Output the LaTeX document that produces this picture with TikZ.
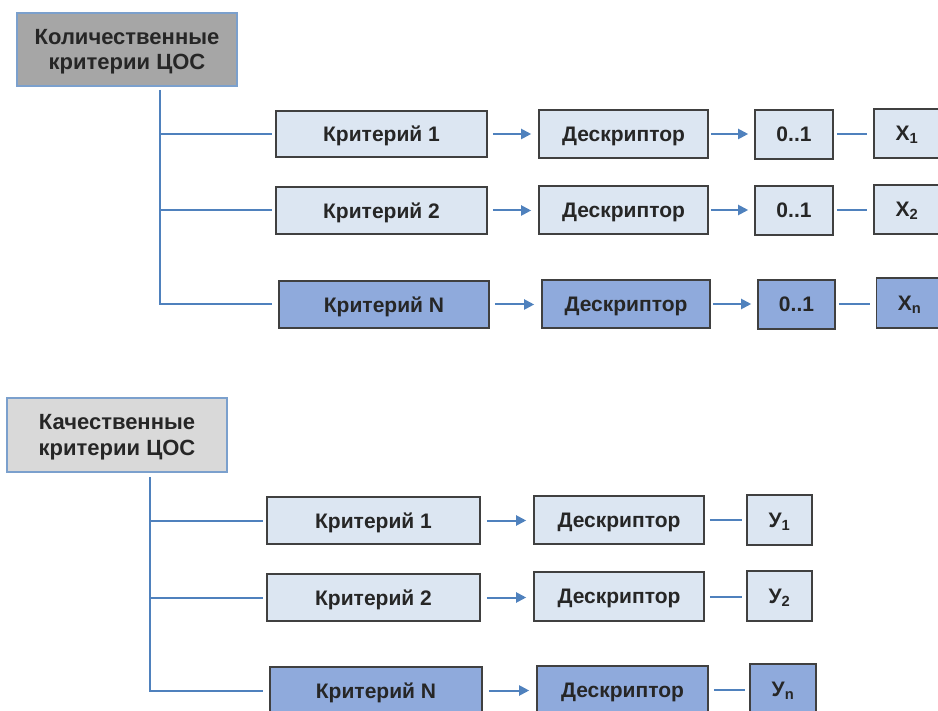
\documentclass[tikz,border=0pt]{standalone}
\usepackage{fontspec}
\setmainfont{Liberation Sans}
\usetikzlibrary{arrows.meta}

\definecolor{boxlight}{HTML}{DCE6F2}
\definecolor{boxdark}{HTML}{8FAADC}
\definecolor{hdrdark}{HTML}{A6A6A6}
\definecolor{hdrlight}{HTML}{D9D9D9}
\definecolor{linkblue}{HTML}{4F81BD}
\definecolor{boxline}{HTML}{404040}
\definecolor{txt}{HTML}{262626}

\begin{document}
\begin{tikzpicture}[x=1pt,y=-1pt,
	box/.style={draw=boxline, line width=1.6pt, fill=boxlight, text=txt, inner sep=0pt, text depth=0pt, align=center, font=\bfseries\fontsize{21}{25}\selectfont},
	darkbox/.style={box, fill=boxdark},
	hdr/.style={box, draw=linkblue!75, fill=hdrdark, font=\bfseries\fontsize{22}{25.5}\selectfont},
	link/.style={linkblue, line width=2pt},
	arr/.style={link, -{Triangle[length=10pt,width=10pt]}}]
					% Fix the frame of the picture
					\clip (0,0) rectangle (938,711);
					
					% Draw header of quantitative criteria
					\node[hdr, minimum width=220pt, minimum height=73pt] (qhead) at (127,49.5) {Количественные\\критерии ЦОС};
					
					% Draw criteria, descriptors, ranges and values (quantitative)
					\node[box, minimum width=211pt, minimum height=46pt] (qk1) at (381.5,134) {Критерий 1};
					\node[box, minimum width=211pt, minimum height=47pt] (qk2) at (381.5,210.5) {Критерий 2};
					\node[darkbox, minimum width=210pt, minimum height=47pt] (qkn) at (384,304.5) {Критерий N};
					
					\node[box, minimum width=169pt, minimum height=48pt] (qd1) at (623.5,134) {Дескриптор};
					\node[box, minimum width=169pt, minimum height=48pt] (qd2) at (623.5,210) {Дескриптор};
					\node[darkbox, minimum width=168pt, minimum height=48pt] (qdn) at (626,304) {Дескриптор};
					
					\node[box, minimum width=78pt, minimum height=49pt] (qr1) at (794,134.5) {0..1};
					\node[box, minimum width=78pt, minimum height=49pt] (qr2) at (794,210.5) {0..1};
					\node[darkbox, minimum width=77pt, minimum height=49pt] (qrn) at (796.5,304.5) {0..1};
					
					\node[box, minimum width=66pt, minimum height=49pt] (qx1) at (907,133.5) {X\textsubscript{1}};
					\node[box, minimum width=66pt, minimum height=49pt] (qx2) at (907,209.5) {X\textsubscript{2}};
					\node[darkbox, minimum width=66pt, minimum height=50pt] (qxn) at (909.5,303) {X\textsubscript{n}};
					
					% Draw tree lines from the header
					\coordinate (qtop) at (160,90);
					\draw[link] (qtop) |- ([xshift=-6pt]qkn.west);
					\foreach \k in {qk1,qk2}
					\draw[link] (qtop |- \k.west) -- ([xshift=-3pt]\k.west);
					
					% Draw arrows and links along each row
					\foreach \a/\b in {qk1/qd1,qk2/qd2,qkn/qdn}
					\draw[arr, shorten <=5pt, shorten >=7pt] (\a.east) -- (\a.east -| \b.west);
					\foreach \a/\b in {qd1/qr1,qd2/qr2,qdn/qrn}
					\draw[arr, shorten <=2pt, shorten >=6pt] (\a.east) -- (\a.east -| \b.west);
					\foreach \a/\b in {qr1/qx1,qr2/qx2,qrn/qxn}
					\draw[link, shorten <=3pt, shorten >=6pt] (\a.east) -- (\a.east -| \b.west);
					
					% Draw header of qualitative criteria
					\node[hdr, fill=hdrlight, minimum width=220pt, minimum height=74pt] (khead) at (117,435) {Качественные\\критерии ЦОС};
					
					% Draw criteria, descriptors and values (qualitative)
					\node[box, minimum width=213pt, minimum height=47pt] (kk1) at (373.5,520.5) {Критерий 1};
					\node[box, minimum width=213pt, minimum height=47pt] (kk2) at (373.5,597.5) {Критерий 2};
					\node[darkbox, minimum width=212pt, minimum height=47pt] (kkn) at (376,690.5) {Критерий N};
					
					\node[box, minimum width=170pt, minimum height=48pt] (kd1) at (619,520) {Дескриптор};
					\node[box, minimum width=170pt, minimum height=49pt] (kd2) at (619,596.5) {Дескриптор};
					\node[darkbox, minimum width=171pt, minimum height=48pt] (kdn) at (622.5,690) {Дескриптор};
					
					\node[box, minimum width=65pt, minimum height=50pt] (ky1) at (779.5,520) {У\textsubscript{1}};
					\node[box, minimum width=65pt, minimum height=50pt] (ky2) at (779.5,596) {У\textsubscript{2}};
					\node[darkbox, minimum width=66pt, minimum height=50pt] (kyn) at (783,689) {У\textsubscript{n}};
					
					% Draw tree lines from the header
					\coordinate (ktop) at (150,477);
					\draw[link] (ktop) |- ([xshift=-6pt]kkn.west);
					\foreach \k in {kk1,kk2}
					\draw[link] (ktop |- \k.west) -- ([xshift=-3pt]\k.west);
					
					% Draw arrows and links along each row
					\foreach \a/\b in {kk1/kd1,kk2/kd2,kkn/kdn}
					\draw[arr, shorten <=6pt, shorten >=7pt] (\a.east) -- (\a.east -| \b.west);
					\foreach \a/\b in {kd1/ky1,kd2/ky2,kdn/kyn}
					\draw[link, shorten <=5pt, shorten >=4pt] (\a.east) -- (\a.east -| \b.west);
					\end{tikzpicture}
\end{document}
